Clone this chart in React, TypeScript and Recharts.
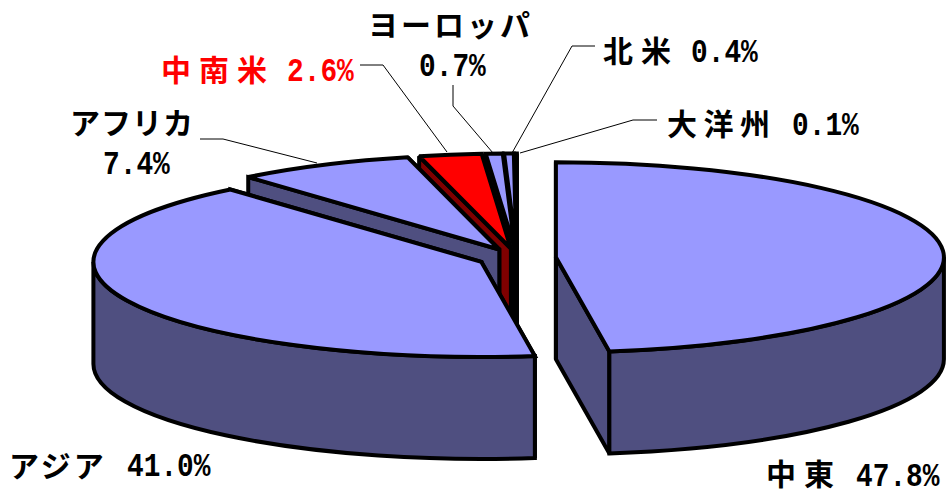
import { PieChart, Pie } from "recharts";

const regions = ["大洋州", "北米", "ヨーロッパ", "中南米", "アフリカ", "アジア", "中東"];
const shares = [0.1, 0.4, 0.7, 2.6, 7.4, 41.0, 47.8];

const chartData = regions.map((name, i) => ({ name, value: shares[i] }));

const RX = 388;
const RY = 95;
const DEPTH = 102;
const EXPLODE = 39;
const EDGE = 4;
const DIGIT_WIDTH = 16.7;

const topColor = "#9999FF";
const sideColor = "#4F4F80";
const accentTop = "#FF0000";
const accentSide = "#800000";
const accentRegion = "中南米";

// text anchors and leader lines for each label
const labelLayout: Record<string, any> = {
  大洋州: { nameX: 667, nameY: 135, spacing: 6.5, valueX: 792, valueY: 135, leader: "657,120 633,120 520,153" },
  北米: { nameX: 603, nameY: 62, spacing: 8, valueX: 691, valueY: 62, leader: "595,46 572,46 512,153" },
  ヨーロッパ: { nameX: 368, nameY: 36, spacing: 3, valueX: 419, valueY: 76, leader: "453,85 453,106 493,153" },
  中南米: { nameX: 161, nameY: 81, spacing: 8, valueX: 287, valueY: 81, leader: "360,65 383,65 447,152" },
  アフリカ: { nameX: 70, nameY: 134, spacing: 1, valueX: 103, valueY: 174, leader: "200,139 223,139 317,163" },
  アジア: { nameX: 9, nameY: 477, spacing: 3, valueX: 127, valueY: 476, leader: "" },
  中東: { nameX: 766, nameY: 485, spacing: 8, valueX: 856, valueY: 486, leader: "" },
};

const rad = (deg: number) => (deg * Math.PI) / 180;

function Slice3D(props: any) {
  const { cx, cy, startAngle, endAngle } = props;
  const name = props.name ?? props.payload?.name;
  const s = Math.min(startAngle, endAngle);
  const e = Math.max(startAngle, endAngle);
  const mid = (s + e) / 2;
  const ox = cx + EXPLODE * Math.cos(rad(mid));
  const oy = cy - EXPLODE * (RY / RX) * Math.sin(rad(mid));
  const pt = (a: number, d = 0) => `${ox + RX * Math.cos(rad(a))} ${oy - RY * Math.sin(rad(a)) + d}`;

  const accent = name === accentRegion;
  const top = accent ? accentTop : topColor;
  const side = accent ? accentSide : sideColor;
  const common = { stroke: "#000", strokeWidth: EDGE, strokeLinejoin: "miter" as const, strokeMiterlimit: 2 };

  const lo = Math.max(s, 180);
  const hi = Math.min(e, 360);
  const large = e - s > 180 ? 1 : 0;

  return (
    <g>
      <path d={`M${ox} ${oy} L${pt(s)} L${pt(s, DEPTH)} L${ox} ${oy + DEPTH} Z`} fill={side} {...common} />
      <path d={`M${ox} ${oy} L${pt(e)} L${pt(e, DEPTH)} L${ox} ${oy + DEPTH} Z`} fill={side} {...common} />
      {hi > lo && (
        <path
          d={`M${pt(lo)} A${RX} ${RY} 0 0 0 ${pt(hi)} L${pt(hi, DEPTH)} A${RX} ${RY} 0 0 1 ${pt(lo, DEPTH)} Z`}
          fill={side}
          {...common}
        />
      )}
      <path d={`M${ox} ${oy} L${pt(s)} A${RX} ${RY} 0 ${large} 0 ${pt(e)} Z`} fill={top} {...common} />
    </g>
  );
}

function RegionLabel(props: any) {
  const name = props.name ?? props.payload?.name;
  const value = props.value ?? props.payload?.value;
  const l = labelLayout[name];
  const color = name === accentRegion ? accentTop : "#000";
  const valueText = `${value.toFixed(1)}%`;
  return (
    <g>
      {l.leader && <polyline points={l.leader} fill="none" stroke="#000" strokeWidth={1} />}
      <text
        x={l.nameX}
        y={l.nameY}
        fill={color}
        fontFamily="'Noto Sans CJK JP'"
        fontWeight={700}
        fontSize={30}
        letterSpacing={l.spacing}
      >
        {name}
      </text>
      <text
        x={l.valueX}
        y={l.valueY}
        fill={color}
        fontFamily="'Liberation Mono'"
        fontWeight={700}
        fontSize={34}
        textLength={valueText.length * DIGIT_WIDTH}
        lengthAdjust="spacingAndGlyphs"
      >
        {valueText}
      </text>
    </g>
  );
}

export default function App() {
  return (
    <div style={{ position: "absolute", left: 0, top: 0, width: 946, height: 489, background: "#fff" }}>
      <PieChart width={946} height={489} margin={{ top: 0, right: 0, bottom: 0, left: 0 }}>
        <Pie
          data={chartData}
          dataKey="value"
          nameKey="name"
          cx={517}
          cy={258}
          innerRadius={0}
          outerRadius={RX}
          startAngle={90}
          endAngle={450}
          stroke="none"
          shape={Slice3D}
          label={RegionLabel}
          labelLine={false}
          isAnimationActive={false}
        />
      </PieChart>
    </div>
  );
}
